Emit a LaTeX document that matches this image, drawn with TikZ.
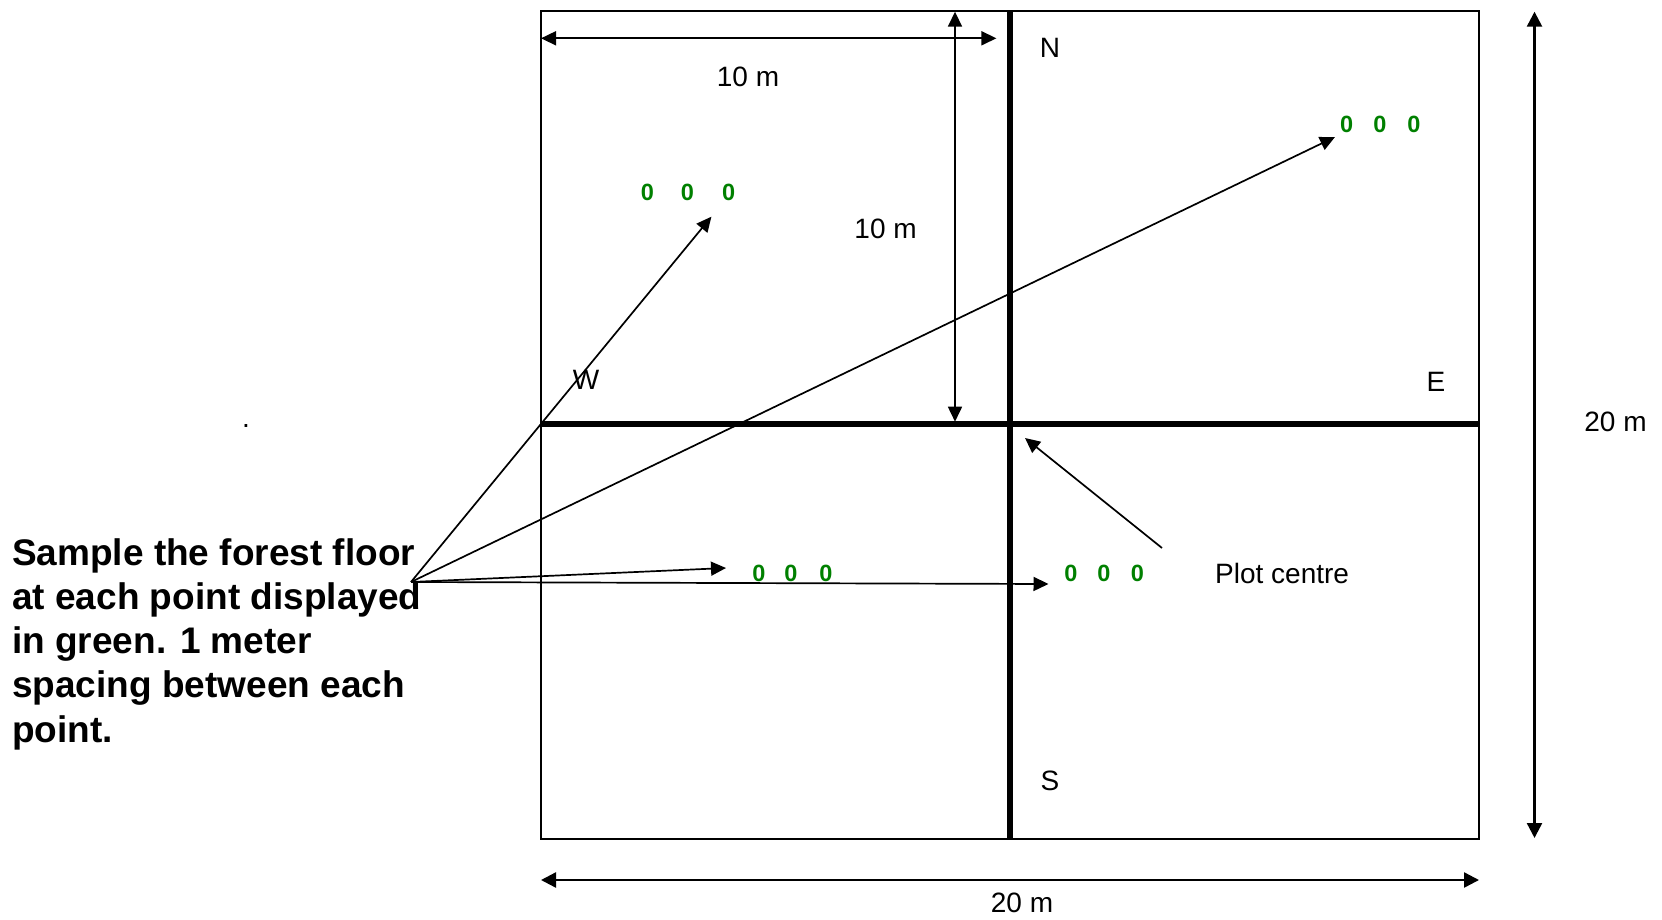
\documentclass[tikz,border=0pt]{standalone}
\usepackage{fontspec}
\setmainfont{Liberation Sans}
\usetikzlibrary{arrows.meta}
\definecolor{ptgreen}{RGB}{0,128,0}
\begin{document}
\begin{tikzpicture}[x=1pt,y=-1pt,
  lbl/.style={font=\fontsize{28}{32}\selectfont, inner sep=0pt},
  pt/.style={font=\fontsize{23.5}{26}\selectfont\bfseries, text=ptgreen, inner sep=0pt},
  tip/.style={-{Triangle[length=15pt,width=14pt]}},
  arr/.style={line width=1.7pt, tip},
  dim/.style={line width=1.7pt, {Triangle[length=15pt,width=14pt]}-{Triangle[length=15pt,width=14pt]}},
  bigdim/.style={line width=2.4pt, {Triangle[length=15pt,width=15pt]}-{Triangle[length=15pt,width=15pt]}},
  frame/.style={line width=2pt},
  cross/.style={line width=6.3pt}
]
\useasboundingbox (0,0) rectangle (1662,920);

% plot frame and cross
\coordinate (tl) at (541,10.7);
\coordinate (br) at (1479,838.5);
\draw[frame] (tl) rectangle (br);
\coordinate (wmid) at (541,424.3);
\coordinate (emid) at (1479,424.3);
\coordinate (ntop) at (1010,10.7);
\coordinate (sbot) at (1010,838.5);
\draw[cross] (wmid) -- (emid);
\draw[cross] (ntop) -- (sbot);

% dimension arrows
\coordinate (d1a) at (541,38.3);
\coordinate (d1b) at (996.4,38.3);
\draw[dim] (d1a) -- (d1b);
\coordinate (d2a) at (955,11.7);
\coordinate (d2b) at (955,421.7);
\draw[dim] (d2a) -- (d2b);
\coordinate (d3a) at (1534.5,11.7);
\coordinate (d3b) at (1534.5,838);
\draw[bigdim] (d3a) -- (d3b);
\coordinate (d4a) at (541,880);
\coordinate (d4b) at (1479,880);
\draw[bigdim] (d4a) -- (d4b);

% labels
\node[lbl] (l10a) at (748,77) {10 m};
\node[lbl] (l10b) at (885.6,229) {10 m};
\node[lbl] (l20r) at (1615.5,422) {20 m};
\node[lbl] (l20b) at (1022,903) {20 m};
\node[lbl] (N) at (1050,48) {N};
\node[lbl] (W) at (586,380) {W};
\node[lbl] (E) at (1436,382) {E};
\node[lbl] (S) at (1050,781) {S};
\node[lbl, anchor=west] (pc) at (1215,573) {Plot centre};
\node[lbl, anchor=base] (dot) at (246,427.5) {.};

% green sample points
\node[pt] (a1) at (647.5,192.7) {0};
\node[pt] (a2) at (687.5,192.7) {0};
\node[pt] (a3) at (728.6,192.7) {0};
\node[pt] (b1) at (1346.6,124) {0};
\node[pt] (b2) at (1379.8,124) {0};
\node[pt] (b3) at (1414,124) {0};
\node[pt] (c1) at (759,573) {0};
\node[pt] (c2) at (791,573) {0};
\node[pt] (c3) at (826,573) {0};
\node[pt] (e1) at (1071,573) {0};
\node[pt] (e2) at (1104,573) {0};
\node[pt] (e3) at (1137.5,573) {0};

% instruction text
\node[anchor=base west, inner sep=0pt, font=\fontsize{37}{44.3}\selectfont\bfseries] (txt) at (12,565)
  {\begin{tabular}[t]{@{}l@{}}Sample the forest floor\\at each point displayed\\in green. 1 meter\\spacing between each\\point.\end{tabular}};

% arrows from text to points
\coordinate (src) at (411,582);
\coordinate (ta) at (711.4,216.7);
\coordinate (tb) at (1335,137);
\coordinate (tc) at (726,568);
\coordinate (te) at (1048.5,584);
\draw[arr] (src) -- (ta);
\draw[arr] (src) -- (tb);
\draw[arr] (src) -- (tc);
\draw[arr] (src) -- (te);

% plot centre arrow
\coordinate (pcs) at (1162,548);
\coordinate (ctr) at (1025,438);
\draw[arr] (pcs) -- (ctr);
\end{tikzpicture}
\end{document}
